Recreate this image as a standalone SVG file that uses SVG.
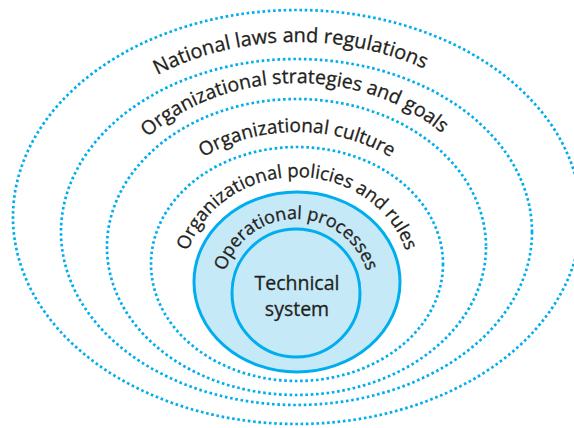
<svg xmlns="http://www.w3.org/2000/svg" width="574" height="428" viewBox="0 0 574 428">
  <style>
    .dot { fill: none; stroke: #00aeef; stroke-width: 2.7; stroke-dasharray: 2.6 2.7; }
    .solid { fill: #c6e9f8; stroke: #00aeef; stroke-width: 3; }
    .lbl { font-family: "Open Sans", "Noto Sans", sans-serif; fill: #231f20; stroke: #231f20; stroke-width: 0.3; text-anchor: middle; }
  </style>
  <defs>
    <path id="p1" d="M 49 232 A 248 190 0 0 1 545 232"/>
    <path id="p2" d="M 96 247 A 201 164 0 0 1 498 247"/>
    <path id="p3" d="M 138 264 A 159 132 0 0 1 456 264"/>
    <path id="p4" d="M 183 282 A 114 105 0 0 1 411 282"/>
    <path id="p5" d="M 222 293 A 74 74 0 0 1 370 293"/>
  </defs>
  <rect width="574" height="428" fill="#ffffff"/>
  <g id="national-laws">
    <ellipse class="dot" cx="297" cy="217" rx="284" ry="207"/>
    <text class="lbl" font-size="20"><textPath href="#p1" startOffset="49%">National laws and regulations</textPath></text>
  </g>
  <g id="strategies">
    <ellipse class="dot" cx="296.5" cy="232" rx="235.5" ry="173"/>
    <text class="lbl" font-size="19.5"><textPath href="#p2" startOffset="49.5%">Organizational strategies and goals</textPath></text>
  </g>
  <g id="culture">
    <ellipse class="dot" cx="296.5" cy="247" rx="189.5" ry="148"/>
    <text class="lbl" font-size="19"><textPath href="#p3" startOffset="50%">Organizational culture</textPath></text>
  </g>
  <g id="policies">
    <ellipse class="dot" cx="297" cy="264" rx="146" ry="117"/>
    <text class="lbl" font-size="18.5"><textPath href="#p4" startOffset="50%">Organizational policies and rules</textPath></text>
  </g>
  <g id="operational-processes">
    <ellipse class="solid" cx="297" cy="282" rx="103" ry="90"/>
    <text class="lbl" font-size="18"><textPath href="#p5" startOffset="50%">Operational processes</textPath></text>
  </g>
  <g id="technical-system">
    <circle class="solid" cx="296" cy="293" r="64"/>
    <text class="lbl" font-size="19.5" x="297" y="290">Technical</text>
    <text class="lbl" font-size="19.5" x="297" y="316">system</text>
  </g>
</svg>
